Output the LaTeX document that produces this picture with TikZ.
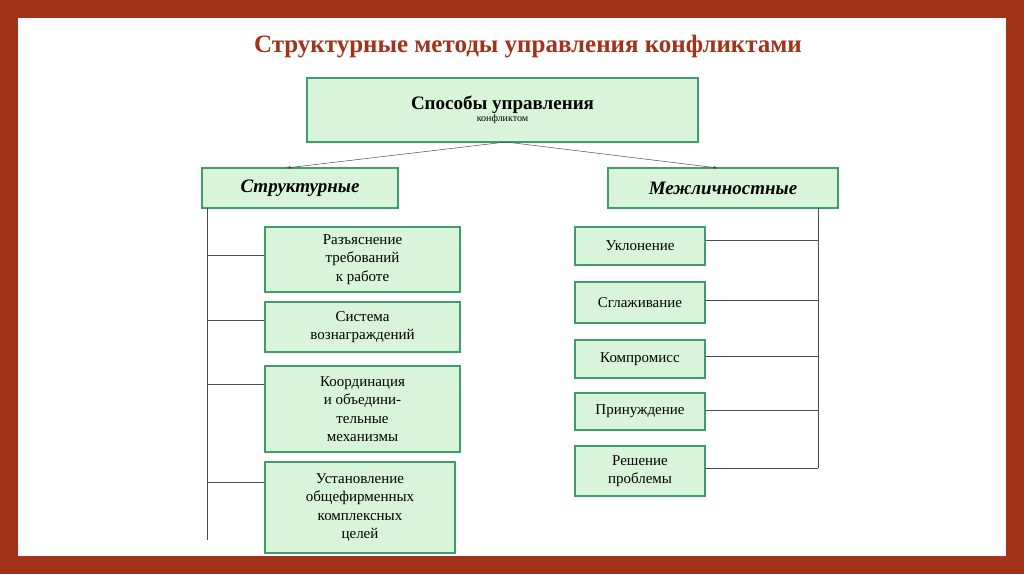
\documentclass[tikz,border=0pt]{standalone}
\usepackage{fontspec}
\setmainfont{Liberation Serif}
\definecolor{frame}{HTML}{A2321A}
\definecolor{boxfill}{HTML}{D8F5DA}
\definecolor{boxline}{HTML}{3E9C6E}
\tikzset{
  gbox/.style={draw=boxline,line width=2.2pt,fill=boxfill,align=center,inner sep=0pt},
  conn/.style={draw=black!70,line width=0.5pt}
}
\begin{document}
\begin{tikzpicture}[x=1pt,y=-1pt]
\fill[frame] (0,0) rectangle (1024,574);
\fill[white] (18,18) rectangle (1006,556);
\node (title) at (528,47) {\fontsize{25}{28}\selectfont\bfseries\color{frame}Структурные методы управления конфликтами};
\node[gbox,minimum width=391pt,minimum height=64pt] (top) at (502.5,110) {\fontsize{19}{24}\selectfont\bfseries Способы управления\\ конфликтом};
\node[gbox,minimum width=196pt,minimum height=40pt] (str) at (300,188) {\fontsize{19}{22}\selectfont\bfseries\itshape Структурные};
\node[gbox,minimum width=230pt,minimum height=40pt] (mez) at (723,188) {\fontsize{19}{22}\selectfont\bfseries\itshape Межличностные};
\draw[conn,-latex] (506,142) -- (286,168);
\draw[conn,-latex] (506,142) -- (718,168);
% left children
\tikzset{lb/.style={gbox,minimum width=195pt,font=\fontsize{15}{18.5}\selectfont}}
\node[lb,minimum height=65pt] (l1) at (362.5,259.5) {Разъяснение\\требований\\к работе};
\node[lb,minimum height=50pt] (l2) at (362.5,327) {Система\\вознаграждений};
\node[lb,minimum height=86pt] (l3) at (362.5,409) {Координация\\и объедини-\\тельные\\механизмы};
\node[lb,minimum height=91pt,minimum width=190pt] (l4) at (360,507.5) {Установление\\общефирменных\\комплексных\\целей};
\coordinate (lt) at (207,208);
\coordinate (lb) at (207,540);
\draw[conn] (lt) -- (lb);
\foreach \n/\y in {l1/255,l2/320,l3/384,l4/482}{
  \draw[conn] (207,\y) -- (\n.west |- 0,\y);
}
% right children
\tikzset{rb/.style={gbox,minimum width=130pt,font=\fontsize{15}{18.5}\selectfont}}
\node[rb,minimum height=38pt] (r1) at (640,246) {Уклонение};
\node[rb,minimum height=41pt] (r2) at (640,302.5) {Сглаживание};
\node[rb,minimum height=38pt] (r3) at (640,359) {Компромисс};
\node[rb,minimum height=37pt] (r4) at (640,411.5) {Принуждение};
\node[rb,minimum height=50pt] (r5) at (640,471) {Решение\\проблемы};
\draw[conn] (818,208) -- (818,468);
\foreach \n/\y in {r1/240,r2/300,r3/356,r4/410,r5/468}{
  \draw[conn] (818,\y) -- (\n.east |- 0,\y);
}
\end{tikzpicture}
\end{document}
